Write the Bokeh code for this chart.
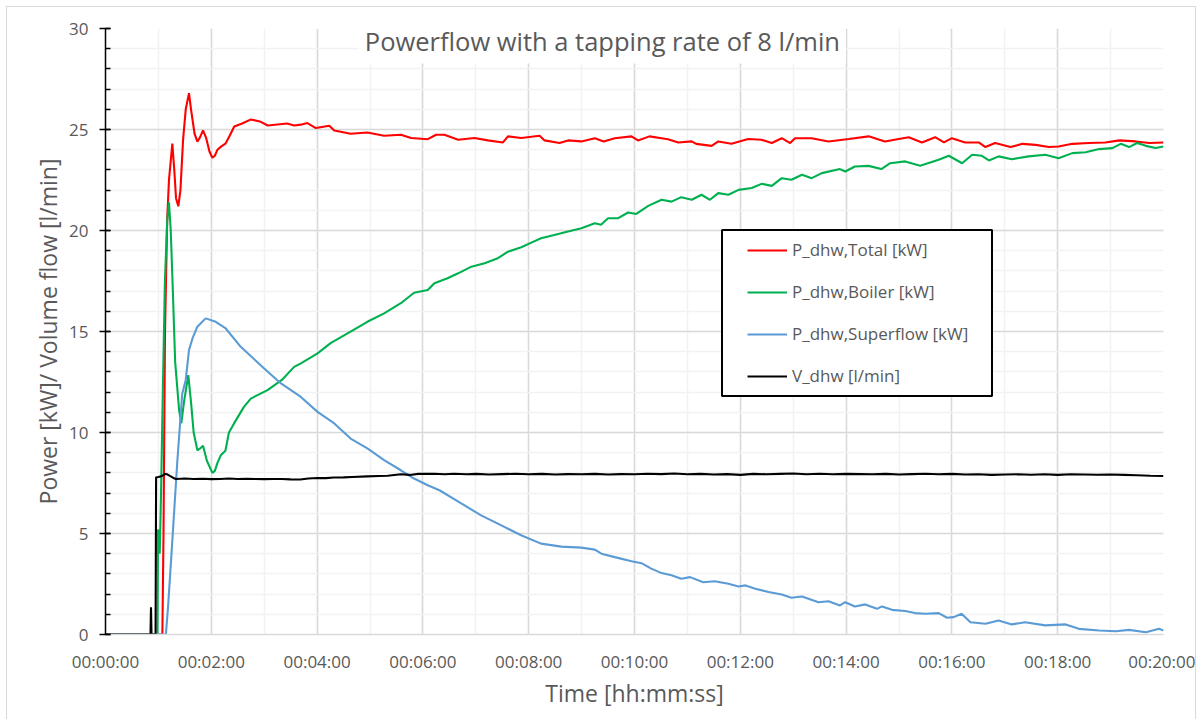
from bokeh.plotting import figure
from bokeh.models import (Range1d, FixedTicker, Legend, LegendItem, Label,
                          BoxAnnotation)
from bokeh.embed import file_html
from bokeh.resources import INLINE

# ---------------- data (time in seconds) ----------------
title_text = "Powerflow with a tapping rate of 8 l/min"
x_label = "Time [hh:mm:ss]"
y_label = "Power [kW]/ Volume flow [l/min]"

x_tick_secs = [0, 120, 240, 360, 480, 600, 720, 840, 960, 1080, 1200]
x_tick_labels = ["00:00:00", "00:02:00", "00:04:00", "00:06:00", "00:08:00",
                 "00:10:00", "00:12:00", "00:14:00", "00:16:00", "00:18:00",
                 "00:20:00"]
x_minor_secs = [0, 60, 120, 180, 240, 300, 360, 420, 480, 540, 600, 660, 720,
                780, 840, 900, 960, 1020, 1080, 1140, 1200]
y_ticks = [0, 5, 10, 15, 20, 25, 30]
y_minor = list(range(0, 31))

series_names = ["P_dhw,Total [kW]", "P_dhw,Boiler [kW]",
                "P_dhw,Superflow [kW]", "V_dhw [l/min]"]

t_total = [0, 64.5, 65.8, 67.5, 70, 72, 75.8, 78, 80, 82.6,
           85, 88, 91, 94.7, 97, 101, 104.2, 107, 110.6, 114,
           118, 121.2, 124, 127, 131, 136, 141, 146, 155, 165,
           175, 184, 195, 206, 214, 221.6, 229, 238.6, 253.8, 259.5,
           278, 297, 316, 335, 346.6, 365.6, 375, 384.4, 400, 418.5,
           433.7, 450.8, 456.5, 471.6, 492.4, 498, 515, 524.6, 539.8, 555,
           565, 577.6, 596.6, 604, 617, 638, 649.7, 664.8, 670, 687.5,
           695, 710, 729, 744, 755.7, 767, 776.5, 782, 801, 820,
           843, 865.6, 884, 898, 911, 926, 941, 951, 960, 975,
           990.5, 998, 1009, 1026.5, 1040, 1055, 1070, 1081, 1096.6, 1115.5,
           1134, 1150, 1168.5, 1184, 1200]
p_total = [0, 0, 5, 15, 20.6, 22.5, 24.3, 23.0, 21.6, 21.2,
           22.0, 24.5, 26.0, 26.8, 26.0, 24.8, 24.4, 24.6, 24.95, 24.6,
           23.9, 23.6, 23.7, 24.0, 24.15, 24.3, 24.7, 25.15, 25.3, 25.5,
           25.4, 25.2, 25.25, 25.3, 25.2, 25.24, 25.32, 25.07, 25.19, 24.95,
           24.79, 24.85, 24.69, 24.74, 24.58, 24.52, 24.74, 24.74, 24.49, 24.58,
           24.46, 24.36, 24.66, 24.58, 24.69, 24.46, 24.33, 24.46, 24.41, 24.57,
           24.41, 24.57, 24.66, 24.46, 24.66, 24.52, 24.36, 24.41, 24.29, 24.19,
           24.41, 24.29, 24.53, 24.49, 24.33, 24.57, 24.33, 24.57, 24.57, 24.41,
           24.53, 24.66, 24.41, 24.52, 24.62, 24.36, 24.62, 24.36, 24.57, 24.36,
           24.36, 24.13, 24.33, 24.13, 24.29, 24.24, 24.13, 24.16, 24.29, 24.33,
           24.36, 24.46, 24.41, 24.33, 24.36]

t_boiler = [0, 59, 59.6, 60.5, 61.5, 63, 65, 67.4, 70, 72,
            74, 76, 79, 83.5, 86, 89, 93.9, 97, 100, 104.2,
            107, 110.6, 115, 121.2, 124, 127, 130.7, 136, 140, 145.8,
            157, 164.8, 183.8, 200, 214, 221.6, 240.5, 255.7, 278, 297,
            316, 335, 350, 365.5, 373, 388, 400, 415, 430, 445,
            456.5, 471.6, 483, 494, 509, 524.6, 539.8, 555, 562, 570,
            581.5, 592.8, 602, 615.6, 630.7, 642, 653, 665, 676, 685.6,
            695, 706.5, 718, 733, 744, 755.7, 767, 778, 790, 801,
            812.5, 833, 839, 850, 865.6, 880, 890, 907, 924, 945,
            956.5, 971.6, 983, 994, 1002, 1013, 1028, 1047, 1066, 1081,
            1096.6, 1111.7, 1127, 1142, 1151.5, 1161, 1170, 1180, 1191, 1200]
p_boiler = [0, 0, 5.2, 5.0, 4.0, 7.0, 12.0, 17.5, 20.5, 21.4,
            20.0, 17.5, 13.5, 11.1, 10.45, 11.5, 12.84, 11.5, 10.0, 9.12,
            9.2, 9.34, 8.6, 8.0, 8.1, 8.5, 8.87, 9.1, 10.0, 10.45,
            11.27, 11.68, 12.1, 12.6, 13.25, 13.42, 13.92, 14.44, 14.99, 15.48,
            15.90, 16.40, 16.92, 17.05, 17.39, 17.64, 17.88, 18.21, 18.38, 18.63,
            18.95, 19.17, 19.40, 19.62, 19.78, 19.95, 20.11, 20.36, 20.28, 20.61,
            20.61, 20.89, 20.82, 21.22, 21.52, 21.43, 21.65, 21.52, 21.77, 21.52,
            21.85, 21.77, 22.01, 22.10, 22.31, 22.21, 22.59, 22.51, 22.76, 22.59,
            22.84, 23.04, 22.92, 23.17, 23.20, 23.04, 23.33, 23.42, 23.20, 23.50,
            23.70, 23.33, 23.75, 23.70, 23.47, 23.67, 23.53, 23.67, 23.75, 23.58,
            23.83, 23.87, 24.03, 24.08, 24.29, 24.13, 24.33, 24.19, 24.08, 24.16]

t_super = [0, 68.5, 71, 75, 81.5, 87, 91, 94.7, 99, 104.2,
           113.6, 125, 136.4, 153.4, 180, 199, 221.6, 240.5, 259.5, 278,
           297, 316, 335, 350, 365.5, 378.8, 403, 426, 449, 472,
           494, 517, 539.8, 555, 562.5, 577.6, 596.6, 608, 619, 630.7,
           642, 653, 663, 678, 691, 706.5, 718, 726, 737, 752,
           767, 778, 790, 808.7, 820, 833, 839, 850, 861.7, 875,
           880.7, 892, 907, 918, 930, 945, 954.5, 962, 971, 981,
           998, 1013, 1028, 1043, 1066, 1089, 1104, 1127, 1146, 1161,
           1180, 1195, 1200]
p_super = [0, 0, 1.4, 4.1, 8.6, 11.9, 12.6, 14.08, 14.7, 15.24,
           15.65, 15.48, 15.15, 14.24, 13.17, 12.43, 11.76, 11.02, 10.45, 9.70,
           9.21, 8.63, 8.13, 7.72, 7.39, 7.14, 6.5, 5.9, 5.4, 4.9,
           4.5, 4.35, 4.30, 4.20, 4.00, 3.83, 3.63, 3.53, 3.26, 3.04,
           2.93, 2.76, 2.84, 2.59, 2.64, 2.51, 2.38, 2.43, 2.27, 2.10,
           1.98, 1.82, 1.88, 1.60, 1.65, 1.44, 1.60, 1.39, 1.49, 1.27,
           1.39, 1.22, 1.16, 1.06, 1.03, 1.06, 0.83, 0.86, 1.03, 0.61,
           0.53, 0.69, 0.50, 0.61, 0.45, 0.50, 0.28, 0.20, 0.16, 0.23,
           0.11, 0.28, 0.20]

t_flow = [0, 51, 51.6, 52.2, 56.8, 57.4, 60, 64, 68, 70,
          73, 77, 80, 90, 100, 110, 120, 130, 140, 150,
          160, 170, 180, 190, 200, 210, 221, 230, 240, 250,
          259, 270, 280, 297, 310, 320, 335, 345, 355, 373,
          385, 395, 410, 420, 435, 450, 465, 480, 495, 510,
          525, 540, 555, 570, 585, 600, 615, 630, 645, 660,
          675, 690, 705, 720, 735, 750, 765, 780, 795, 810,
          825, 840, 855, 870, 885, 900, 915, 930, 945, 960,
          975, 990, 1005, 1020, 1035, 1050, 1065, 1080, 1095, 1110,
          1125, 1140, 1155, 1170, 1185, 1200]
v_flow = [0, 0, 1.35, 0, 0, 7.78, 7.8, 7.85, 7.95, 7.93,
          7.85, 7.75, 7.7, 7.72, 7.7, 7.71, 7.69, 7.7, 7.72, 7.7,
          7.71, 7.7, 7.69, 7.7, 7.7, 7.68, 7.67, 7.72, 7.75, 7.74,
          7.77, 7.78, 7.8, 7.83, 7.85, 7.86, 7.93, 7.9, 7.95, 7.96,
          7.93, 7.96, 7.93, 7.95, 7.92, 7.94, 7.96, 7.93, 7.95, 7.92,
          7.94, 7.93, 7.95, 7.92, 7.94, 7.93, 7.96, 7.94, 7.97, 7.93,
          7.95, 7.92, 7.94, 7.9, 7.95, 7.93, 7.95, 7.97, 7.93, 7.96,
          7.93, 7.95, 7.94, 7.93, 7.95, 7.92, 7.94, 7.96, 7.93, 7.95,
          7.92, 7.93, 7.9, 7.92, 7.93, 7.91, 7.93, 7.9, 7.93, 7.92,
          7.91, 7.92, 7.9, 7.88, 7.86, 7.85]

colors = ["#FF0000", "#00B050", "#5B9BD5", "#000000"]

# ---------------- figure ----------------
FONT = "Open Sans"
TXT = "#595959"
OFF = 7.5  # canvas offset inside the light-grey chart frame

p = figure(width=1188, height=712, title=None,
           x_range=Range1d(0, 1200), y_range=Range1d(0, 30),
           output_backend="svg", toolbar_location=None,
           min_border_left=98, min_border_right=34,
           min_border_top=21, min_border_bottom=86)
p.background_fill_color = "white"
p.border_fill_color = "white"
p.outline_line_color = None
# light grey chart-area frame (left, top, right edges)
p.styles = {"margin-left": "6px", "margin-top": "6px",
            "border-left": "1.5px solid #D9D9D9",
            "border-top": "1.5px solid #D9D9D9",
            "border-right": "1.5px solid #D9D9D9",
            "box-sizing": "content-box"}

# axes
p.xaxis.ticker = FixedTicker(ticks=x_tick_secs, minor_ticks=x_minor_secs)
p.xaxis.major_label_overrides = {k: v for k, v in zip(x_tick_secs, x_tick_labels)}
p.yaxis.ticker = FixedTicker(ticks=y_ticks, minor_ticks=y_minor)

for ax in (p.xaxis, p.yaxis):
    ax.major_label_text_font = FONT
    ax.major_label_text_font_size = "17px"
    ax.major_label_text_color = TXT
    ax.axis_label_text_font = FONT
    ax.axis_label_text_font_size = "23px"
    ax.axis_label_text_color = TXT
    ax.axis_label_text_font_style = "normal"

p.xaxis.axis_label = x_label
p.yaxis.axis_label = y_label

p.xaxis.axis_line_color = "#D9D9D9"
p.xaxis.axis_line_width = 1.5
p.xaxis.major_tick_line_color = None
p.xaxis.minor_tick_line_color = None
p.xaxis.major_label_standoff = 9
p.xaxis.axis_label_standoff = 1

p.yaxis.axis_line_color = "black"
p.yaxis.axis_line_width = 1.5
p.yaxis.major_tick_line_color = "black"
p.yaxis.major_tick_line_width = 1.5
p.yaxis.major_tick_in = 5
p.yaxis.major_tick_out = 6
p.yaxis.minor_tick_line_color = "black"
p.yaxis.minor_tick_line_width = 1.5
p.yaxis.minor_tick_in = 5
p.yaxis.minor_tick_out = 0
p.yaxis.major_label_standoff = 11
p.yaxis.axis_label_standoff = 2

# grids
p.xgrid.ticker = p.xaxis.ticker
p.ygrid.ticker = p.yaxis.ticker
for g in (p.xgrid, p.ygrid):
    g.grid_line_color = "#D9D9D9"
    g.grid_line_width = 1.5
    g.minor_grid_line_color = "#F2F2F2"
    g.minor_grid_line_width = 1.5

# series
xs = [t_total, t_boiler, t_super, t_flow]
ys = [p_total, p_boiler, p_super, v_flow]
renderers = []
for x, y, c in zip(xs, ys, colors):
    renderers.append(p.line(x, y, line_color=c, line_width=2.1))

# title with white box
p.add_layout(Label(x=563.6, y=29.4, text=title_text,
                   text_font=FONT, text_font_size="25.5px", text_color=TXT,
                   text_align="center", text_baseline="middle",
                   background_fill_color="white", padding=6))

# legend frame
p.add_layout(BoxAnnotation(left=721 - OFF, right=991 - OFF,
                           top=229 - OFF, bottom=395 - OFF,
                           left_units="canvas", right_units="canvas",
                           top_units="canvas", bottom_units="canvas",
                           fill_color="white", fill_alpha=1.0,
                           line_color="black", line_alpha=1.0, line_width=2))

legend = Legend(items=[LegendItem(label=n, renderers=[r])
                       for n, r in zip(series_names, renderers)],
                location=(642, 247), padding=0, spacing=19,
                glyph_width=40, glyph_height=20, label_height=20,
                label_standoff=5, border_line_color=None,
                background_fill_alpha=0,
                label_text_font=FONT, label_text_font_size="17px",
                label_text_color=TXT)
p.add_layout(legend)

open("out.html", "w").write(file_html(p, INLINE))
